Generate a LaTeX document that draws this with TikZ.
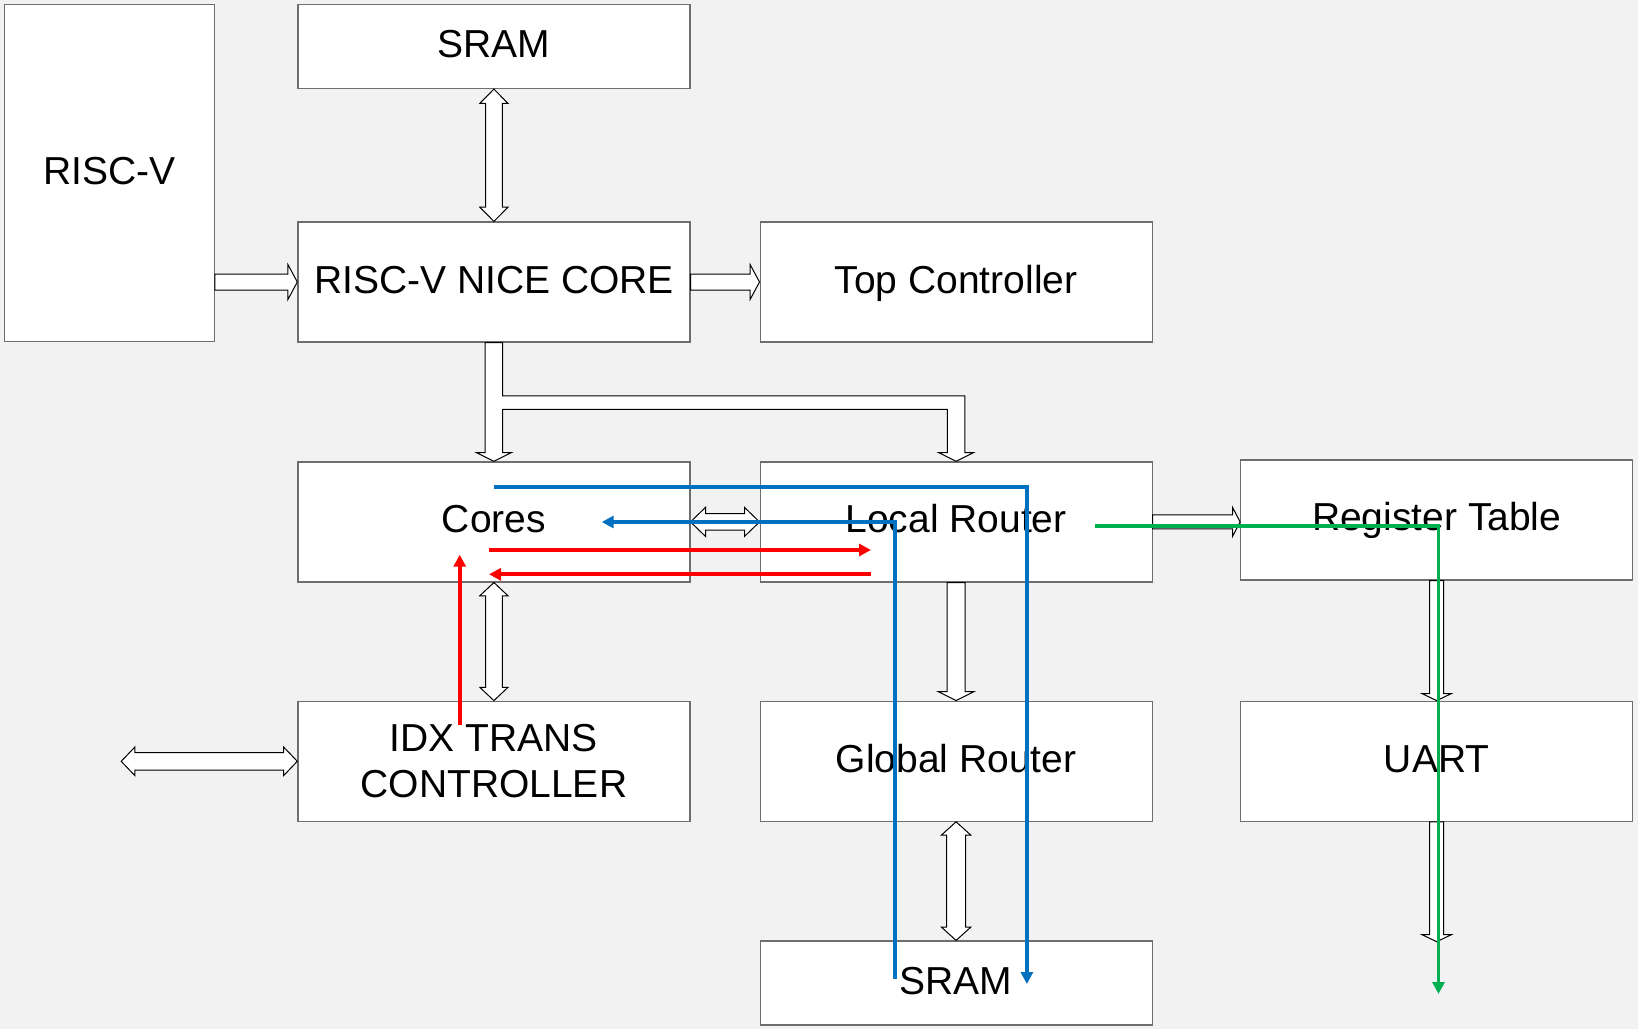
\documentclass[tikz,border=0pt]{standalone}
\usepackage{fontspec}
\setmainfont{Liberation Sans}
\usetikzlibrary{calc,arrows.meta}
\definecolor{bg}{HTML}{F2F2F2}
\definecolor{boxline}{HTML}{6E6E6E}
\definecolor{pblue}{HTML}{0070C0}
\definecolor{pred}{HTML}{FF0000}
\definecolor{pgreen}{HTML}{00B050}
\newcommand\fatHR[5]{\draw[fat] let \p1=(#1), \p2=(#2) in (\x1,\y1+#3pt) -- (\x2-#5pt,\y1+#3pt) -- (\x2-#5pt,\y1+#4pt) -- (\x2,\y1) -- (\x2-#5pt,\y1-#4pt) -- (\x2-#5pt,\y1-#3pt) -- (\x1,\y1-#3pt) -- cycle;}
\newcommand\fatHD[5]{\draw[fat] let \p1=(#1), \p2=(#2) in (\x1,\y1) -- (\x1+#5pt,\y1+#4pt) -- (\x1+#5pt,\y1+#3pt) -- (\x2-#5pt,\y1+#3pt) -- (\x2-#5pt,\y1+#4pt) -- (\x2,\y1) -- (\x2-#5pt,\y1-#4pt) -- (\x2-#5pt,\y1-#3pt) -- (\x1+#5pt,\y1-#3pt) -- (\x1+#5pt,\y1-#4pt) -- cycle;}
\newcommand\fatVD[5]{\draw[fat] let \p1=(#1), \p2=(#2) in (\x1-#3pt,\y1) -- (\x1-#3pt,\y2+#5pt) -- (\x1-#4pt,\y2+#5pt) -- (\x1,\y2) -- (\x1+#4pt,\y2+#5pt) -- (\x1+#3pt,\y2+#5pt) -- (\x1+#3pt,\y1) -- cycle;}
\newcommand\fatVB[5]{\draw[fat] let \p1=(#1), \p2=(#2) in (\x1,\y1) -- (\x1+#4pt,\y1-#5pt) -- (\x1+#3pt,\y1-#5pt) -- (\x1+#3pt,\y2+#5pt) -- (\x1+#4pt,\y2+#5pt) -- (\x1,\y2) -- (\x1-#4pt,\y2+#5pt) -- (\x1-#3pt,\y2+#5pt) -- (\x1-#3pt,\y1-#5pt) -- (\x1-#4pt,\y1-#5pt) -- cycle;}
\begin{document}
\begin{tikzpicture}[x=1pt,y=-1pt,
  blk/.style={draw=boxline,line width=1.2pt,fill=white,minimum width=392pt,minimum height=120pt,inner sep=0pt,font=\fontsize{39}{46}\selectfont},
  one/.style={text height=28pt,text depth=6pt},
  fat/.style={draw=black,line width=1pt,fill=white,line join=miter},
  flow/.style={line width=3.8pt,-{Triangle[length=12pt,width=12pt]}},
]
\fill[bg] (0,0) rectangle (1638,1029);
\useasboundingbox (0,0) rectangle (1638,1029);
% boxes
\node[blk,one,minimum width=210pt,minimum height=337pt] (riscv) at (109.2,173.3) {RISC-V};
\node[blk,one,minimum height=84pt] (sramA) at (493.9,46.5) {SRAM};
\node[blk,one] (nice) at (493.9,282) {RISC-V NICE CORE};
\node[blk,one] (topc) at (956.1,282) {Top Controller};
\node[blk,one] (cores) at (493.9,521.9) {Cores};
\node[blk,one] (local) at (956.1,521.9) {Local Router};
\node[blk,one] (regt) at (1436.7,519.9) {Register Table};
\node[blk,align=center] (idx) at (493.9,761.2) {IDX TRANS\\CONTROLLER};
\node[blk,one] (glob) at (956.1,761.2) {Global Router};
\node[blk,one] (uart) at (1436.7,761.2) {UART};
\node[blk,one,minimum height=84pt] (sramB) at (956.1,983) {SRAM};
% block arrows
\fatVB{sramA.south}{nice.north}{8.4}{14.1}{14.3}
\fatHR{riscv.east |- nice.center}{nice.west}{8}{17.5}{9.4}
\fatHR{nice.east}{topc.west}{8}{17.5}{9.4}
\fatHD{cores.east}{local.west}{8.3}{14.5}{15}
\fatHR{local.east}{regt.west |- local.east}{7}{14.2}{7.4}
\fatVD{local.south}{glob.north}{8.9}{17.8}{9}
\fatVB{glob.south}{sramB.north}{9.4}{14.7}{13.3}
\fatVB{cores.south}{idx.north}{8.4}{14.1}{13.3}
\fatVD{regt.south}{uart.north}{7}{14.6}{7}
\coordinate (uartout) at (1437,941.7);
\fatVD{uart.south}{uartout}{7}{14.6}{7}
\coordinate (idxin) at (121.2,761.3);
\fatHD{idxin}{idx.west}{8.7}{14.2}{13.6}
% branching arrow from NICE CORE to Cores and Local Router
\draw[fat] let \p1=(nice.south), \p2=(cores.north), \p3=(local.north) in
  (\x1-8.8pt,\y1) -- (\x1-8.8pt,\y2+8.7pt) -- (\x1-17.5pt,\y2+8.7pt) -- (\x1,\y2)
  -- (\x1+17.5pt,\y2+8.7pt) -- (\x1+8.8pt,\y2+8.7pt) -- (\x1+8.8pt,\y1-66.7pt)
  -- (\x3-8.8pt,\y1-66.7pt) -- (\x3-8.8pt,\y3+8.7pt) -- (\x3-17.5pt,\y3+8.7pt)
  -- (\x3,\y3) -- (\x3+17.5pt,\y3+8.7pt) -- (\x3+8.8pt,\y3+8.7pt)
  -- (\x3+8.8pt,\y1-53.3pt) -- (\x1+8.8pt,\y1-53.3pt) -- (\x1+8.8pt,\y1) -- cycle;
% coloured flows
\coordinate (b1s) at (494,487.3);
\coordinate (b1e) at (1026.9,984);
\coordinate (b2s) at (895.3,979);
\coordinate (b2e) at (601.7,522);
\coordinate (r1s) at (489,550);
\coordinate (r1e) at (871,550);
\coordinate (r2s) at (871,574.3);
\coordinate (r2e) at (489,574.3);
\coordinate (r3s) at (459.7,724.7);
\coordinate (r3e) at (459.7,554.7);
\coordinate (gs) at (1094.8,525.7);
\coordinate (ge) at (1438.5,994);
\draw[flow,pblue] (b1s) -| (b1e);
\draw[flow,pblue] (b2s) |- (b2e);
\draw[flow,pred] (r1s) -- (r1e);
\draw[flow,pred] (r2s) -- (r2e);
\draw[flow,pred] (r3s) -- (r3e);
\draw[flow,pgreen] (gs) -| (ge);
\end{tikzpicture}
\end{document}
